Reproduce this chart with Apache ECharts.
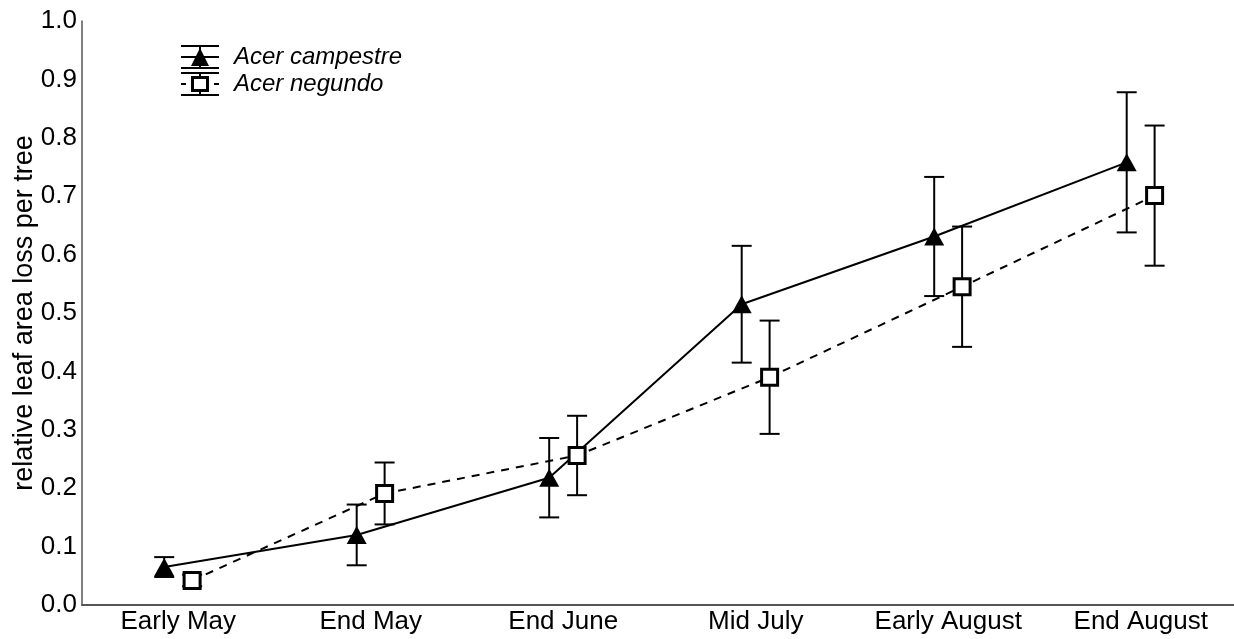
<!DOCTYPE html>
<html>
<head>
<meta charset="utf-8">
<script src="https://cdn.jsdelivr.net/npm/echarts@6/dist/echarts.min.js"></script>
<style>
html,body{margin:0;padding:0;background:#fff;}
#chart{width:1234px;height:639px;}
</style>
</head>
<body>
<div id="chart"></div>
<script>
var categories = ['Early May', 'End May', 'End June', 'Mid July', 'Early August', 'End August'];
var campestreMean = [0.065, 0.120, 0.218, 0.515, 0.631, 0.758];
var campestreErr  = [0.017, 0.052, 0.068, 0.100, 0.102, 0.120];
var negundoMean   = [0.042, 0.191, 0.256, 0.390, 0.545, 0.701];
var negundoErr    = [0.010, 0.053, 0.068, 0.097, 0.103, 0.120];
var yTicks = [0.0, 0.1, 0.2, 0.3, 0.4, 0.5, 0.6, 0.7, 0.8, 0.9, 1.0];
var seriesNames = ['Acer campestre', 'Acer negundo'];
var dodge = [-0.073, 0.072];

function pts(mean, d) {
  return mean.map(function (v, i) { return [i + d, v]; });
}
function errData(mean, err, d) {
  return mean.map(function (v, i) { return [i + d, v - err[i], v + err[i]]; });
}
function errRender(params, api) {
  var x = api.value(0);
  var lo = api.coord([x, api.value(1)]);
  var hi = api.coord([x, api.value(2)]);
  var hw = 10;
  var st = { stroke: '#000', lineWidth: 2 };
  return {
    type: 'group',
    children: [
      { type: 'line', shape: { x1: lo[0], y1: lo[1], x2: hi[0], y2: hi[1] }, style: st },
      { type: 'line', shape: { x1: lo[0] - hw, y1: lo[1], x2: lo[0] + hw, y2: lo[1] }, style: st },
      { type: 'line', shape: { x1: hi[0] - hw, y1: hi[1], x2: hi[0] + hw, y2: hi[1] }, style: st }
    ]
  };
}

var iconCampestre = 'path://M0 0H38V2H0Z M0 22H38V24H0Z M0 11H38V13H0Z M18 0H20V24H18Z M10 21L19 3L28 21Z';
var iconNegundo = 'path://M0 0H38V2H0Z M0 22H38V24H0Z M0 11H5V13H0Z M33 11H38V13H33Z M18 0H20V4H18Z M18 20H20V24H18Z M10 4H28V20H10Z M13 7V17H25V7Z';

var chart = echarts.init(document.getElementById('chart'), null, { renderer: 'canvas' });
chart.setOption({
  animation: false,
  backgroundColor: '#fff',
  textStyle: { fontFamily: 'Liberation Sans, Arial, sans-serif', color: '#000' },
  grid: { left: 82, right: -3, top: 21, bottom: 34, containLabel: false, outerBoundsMode: 'none' },
  legend: {
    orient: 'vertical',
    left: 176,
    top: 40,
    itemWidth: 38,
    itemHeight: 24,
    itemGap: 3,
    selectedMode: false,
    textStyle: { fontSize: 24, fontStyle: 'italic', color: '#000', fontFamily: 'Liberation Sans, Arial, sans-serif', padding: [0, 0, 0, 10] },
    data: [
      { name: seriesNames[0], icon: iconCampestre, itemStyle: { color: '#000', borderWidth: 0 } },
      { name: seriesNames[1], icon: iconNegundo, itemStyle: { color: '#000', borderWidth: 0 } }
    ]
  },
  xAxis: [
    {
      type: 'category',
      data: categories,
      boundaryGap: true,
      axisLine: { show: true, onZero: false, lineStyle: { color: '#555', width: 2 } },
      axisTick: { show: false },
      axisLabel: { color: '#000', fontSize: 26, margin: 4, interval: 0 },
      splitLine: { show: false }
    },
    {
      type: 'value',
      min: -0.5,
      max: 5.5,
      show: false,
      splitLine: { show: false }
    }
  ],
  yAxis: {
    type: 'value',
    min: 0,
    max: 1,
    interval: 0.1,
    name: 'relative leaf area loss per tree',
    nameLocation: 'middle',
    nameRotate: 90,
    nameGap: 44,
    nameMoveOverlap: false,
    nameTextStyle: { fontSize: 27, color: '#000' },
    axisLine: { show: true, onZero: false, lineStyle: { color: '#555', width: 1.5 } },
    axisTick: { show: false },
    splitLine: { show: false },
    axisLabel: {
      color: '#000', fontSize: 26, margin: 5,
      formatter: function (v) {
        var t = yTicks.filter(function (k) { return Math.abs(k - v) < 1e-6; });
        return t.length ? t[0].toFixed(1) : '';
      }
    }
  },
  series: [
    {
      type: 'custom', xAxisIndex: 1, renderItem: errRender,
      data: errData(campestreMean, campestreErr, dodge[0]), z: 1, silent: true
    },
    {
      type: 'custom', xAxisIndex: 1, renderItem: errRender,
      data: errData(negundoMean, negundoErr, dodge[1]), z: 1, silent: true
    },
    {
      name: seriesNames[0], type: 'line', xAxisIndex: 1,
      data: pts(campestreMean, dodge[0]),
      symbol: 'triangle', symbolSize: [20, 18],
      lineStyle: { color: '#000', width: 2, type: 'solid' },
      itemStyle: { color: '#000', borderWidth: 0 },
      z: 3
    },
    {
      name: seriesNames[1], type: 'line', xAxisIndex: 1,
      data: pts(negundoMean, dodge[1]),
      symbol: 'rect', symbolSize: 16,
      lineStyle: { color: '#000', width: 2, type: [8, 7] },
      itemStyle: { color: '#fff', borderColor: '#000', borderWidth: 3 },
      z: 4
    }
  ]
});
</script>
</body>
</html>
